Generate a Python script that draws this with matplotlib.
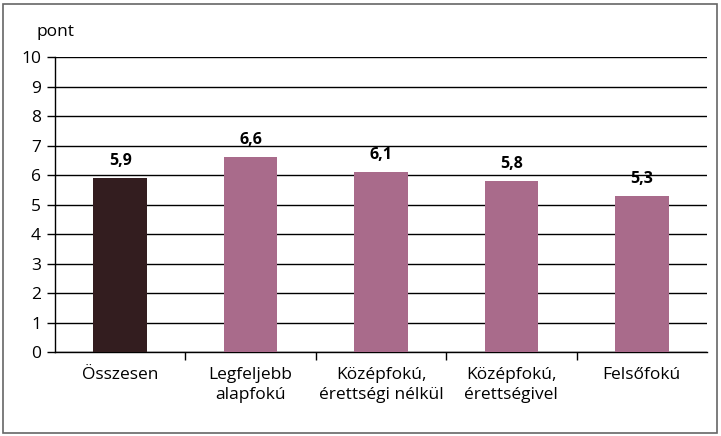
import matplotlib.pyplot as plt
from matplotlib.patches import Rectangle

categories = ['Összesen', 'Legfeljebb\nalapfokú', 'Középfokú,\nérettségi nélkül',
              'Középfokú,\nérettségivel', 'Felsőfokú']
values = [5.9, 6.6, 6.1, 5.8, 5.3]
labels = ['5,9', '6,6', '6,1', '5,8', '5,3']
colors = ['#331d1f', '#a96b8b', '#a96b8b', '#a96b8b', '#a96b8b']

plt.rcParams['font.family'] = ['Open Sans', 'DejaVu Sans']

fig = plt.figure(figsize=(7.21, 4.36), dpi=100)
ax = fig.add_axes([55 / 721, 84 / 436, 652 / 721, 295 / 436])

x = range(len(categories))
ax.bar(x, values, width=0.41, color=colors, zorder=3)
for i, v in enumerate(values):
    ax.text(i, v + 0.3, labels[i], ha='center', va='bottom',
            fontsize=11.5, fontweight='bold', zorder=4)

ax.set_xlim(-0.5, len(categories) - 0.5)
ax.set_ylim(0, 10)
ax.set_yticks(range(11))
ax.tick_params(axis='y', labelsize=12.5, length=6, width=1, direction='out', pad=4)
ax.yaxis.grid(True, color='black', linewidth=1, zorder=0)

ax.set_xticks([i + 0.5 for i in range(len(categories) - 1)], minor=False)
ax.set_xticklabels([])
ax.tick_params(axis='x', length=6, width=1, direction='out')
ax.set_xticks(list(x), minor=True)
ax.set_xticklabels(categories, minor=True, fontsize=12.5, linespacing=1.3)
ax.tick_params(axis='x', which='minor', length=0, pad=11)
for lbl in ax.get_xticklabels(minor=True):
    lbl.set_verticalalignment('top')

for s in ['top', 'right']:
    ax.spines[s].set_visible(False)
ax.spines['left'].set_linewidth(1)
ax.spines['bottom'].set_linewidth(1)

fig.text(37 / 721, 1 - 32 / 436, 'pont', fontsize=12.5, ha='left', va='center')

fig.patches.append(Rectangle((3 / 721, 3 / 436), 714 / 721, 429 / 436,
                             transform=fig.transFigure, fill=False,
                             edgecolor='#666666', linewidth=1.2))

fig.savefig('out.png', dpi=100)
